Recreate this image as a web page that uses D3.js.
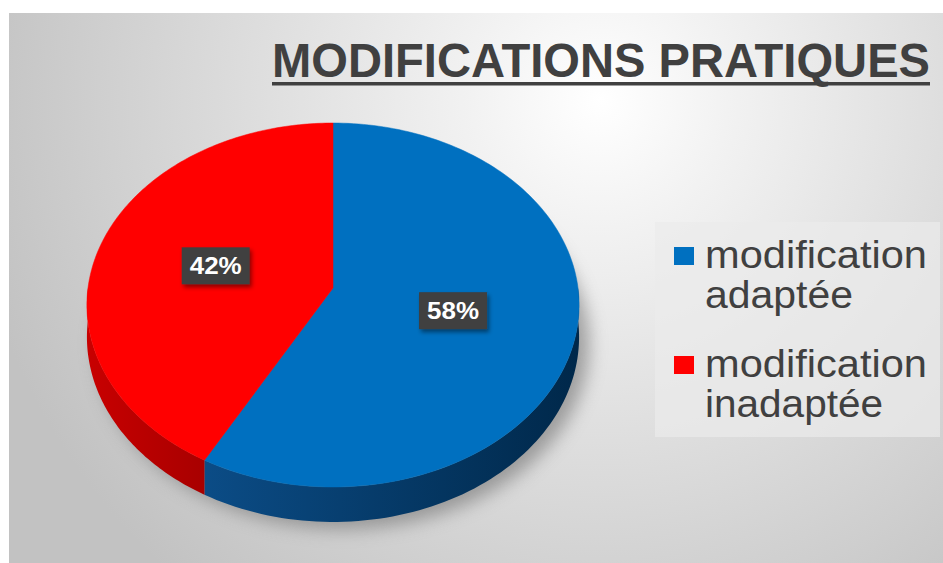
<!DOCTYPE html>
<html><head><meta charset="utf-8">
<script src="https://cdn.jsdelivr.net/npm/d3@7"></script>
<style>html,body{margin:0;padding:0;background:#fff;}svg{display:block;}</style>
</head><body>
<script>
const title = "MODIFICATIONS PRATIQUES";
const categories = ["modification adaptée", "modification inadaptée"];
const legendLines = [["modification", "adaptée"], ["modification", "inadaptée"]];
const values = [58, 42];
const labels = ["58%", "42%"];
const topColors = ["#0070c0", "#ff0000"];
const sideColors = [["#0b4c86", "#00284a"], ["#c80000", "#a80000"]];

const W = 943, H = 563;
const svg = d3.select("body").append("svg").attr("width", W).attr("height", H)
  .style("font-family", "'Liberation Sans', Arial, sans-serif");
const defs = svg.append("defs");

// background
const bg = defs.append("radialGradient").attr("id", "bg").attr("gradientUnits", "userSpaceOnUse")
  .attr("cx", 600).attr("cy", 100).attr("r", 640);
bg.append("stop").attr("offset", 0).attr("stop-color", "#ffffff");
bg.append("stop").attr("offset", 0.2).attr("stop-color", "#f2f2f2");
bg.append("stop").attr("offset", 1).attr("stop-color", "#c2c2c2");
svg.append("rect").attr("x", 9).attr("y", 13).attr("width", W - 9).attr("height", H - 13).attr("fill", "url(#bg)");

// pie geometry (perspective ellipse)
const cx = 333, cy = 288, rx = 245, ry = 180.4, p = 0.0934, depth = 31.7;
function proj(theta, r, h) {
  const u = Math.sin(theta) * r, v = -Math.cos(theta) * r;
  const s = 1 / (1 - p * v);
  return [cx + rx * u * s, cy + ry * v * s + depth * s * h];
}
const pie = d3.pie().sort(null).startAngle(0).endAngle(2 * Math.PI);
const arcs = pie(values);

// shadow
const blur = defs.append("filter").attr("id", "blur").attr("x", "-20%").attr("y", "-20%").attr("width", "140%").attr("height", "140%");
blur.append("feGaussianBlur").attr("stdDeviation", 9);
const shadowPts = d3.range(0, 361, 3).map(a => {
  const t = a * Math.PI / 180; const q = proj(t, 1, 1); return [q[0] + 10, q[1] + 7];
});
svg.append("path").attr("d", d3.line()(shadowPts) + "Z").attr("fill", "#6e6e6e").attr("opacity", 0.6).attr("filter", "url(#blur)");

// side walls (front half)
arcs.forEach((a, i) => {
  const s0 = Math.max(a.startAngle, Math.PI / 2), s1 = Math.min(a.endAngle, 3 * Math.PI / 2);
  if (s1 <= s0) return;
  const g = defs.append("linearGradient").attr("id", "side" + i).attr("gradientUnits", "userSpaceOnUse")
    .attr("x1", proj(s1, 1, 0)[0]).attr("x2", proj(s0, 1, 0)[0]).attr("y1", 0).attr("y2", 0);
  g.append("stop").attr("offset", 0).attr("stop-color", sideColors[i][0]);
  g.append("stop").attr("offset", 1).attr("stop-color", sideColors[i][1]);
  const n = 80, top = [], bot = [];
  for (let k = 0; k <= n; k++) { const t = s0 + (s1 - s0) * k / n; top.push(proj(t, 1, 0)); bot.push(proj(t, 1, 1)); }
  svg.append("path").attr("d", d3.line()(top.concat(bot.reverse())) + "Z").attr("fill", "url(#side" + i + ")");
});

// top faces
arcs.forEach((a, i) => {
  const n = 160, pts = [[cx, cy]];
  for (let k = 0; k <= n; k++) { const t = a.startAngle + (a.endAngle - a.startAngle) * k / n; pts.push(proj(t, 1, 0)); }
  svg.append("path").attr("d", d3.line()(pts) + "Z").attr("fill", topColors[i]).attr("stroke", topColors[i]).attr("stroke-width", 0.5);
});

// data labels
const lshadow = defs.append("filter").attr("id", "lsh").attr("x", "-30%").attr("y", "-30%").attr("width", "160%").attr("height", "160%");
lshadow.append("feDropShadow").attr("dx", 2).attr("dy", 3).attr("stdDeviation", 2).attr("flood-color", "#000").attr("flood-opacity", 0.45);
arcs.forEach((a, i) => {
  const mid = (a.startAngle + a.endAngle) / 2;
  const c = proj(mid, 0.5, 0);
  const bw = 68, bh = 37;
  svg.append("rect").attr("x", c[0] - bw / 2).attr("y", c[1] - bh / 2).attr("width", bw).attr("height", bh)
    .attr("fill", "#404040").attr("filter", "url(#lsh)");
  svg.append("text").attr("x", c[0]).attr("y", c[1] + 8.5).attr("text-anchor", "middle")
    .attr("font-size", 24).attr("font-weight", "bold").attr("fill", "#ffffff")
    .attr("textLength", 52).attr("lengthAdjust", "spacingAndGlyphs").text(labels[i]);
});

// title
svg.append("text").attr("x", 272).attr("y", 77).attr("font-size", 48).attr("font-weight", "bold")
  .attr("fill", "#404040").attr("textLength", 658).attr("lengthAdjust", "spacingAndGlyphs").text(title);
svg.append("rect").attr("x", 272).attr("y", 82).attr("width", 658).attr("height", 3.5).attr("fill", "#404040");

// legend
svg.append("rect").attr("x", 655).attr("y", 222).attr("width", 285).attr("height", 215)
  .attr("fill", "#ebebeb").attr("opacity", 0.7);
const lineW = {"modification": 222, "adaptée": 148, "inadaptée": 178};
legendLines.forEach((lines, i) => {
  const y0 = 268 + i * 109;
  svg.append("rect").attr("x", 674).attr("y", y0 - 21).attr("width", 20).attr("height", 18).attr("fill", topColors[i]);
  lines.forEach((t, j) => {
    svg.append("text").attr("x", 705).attr("y", y0 + j * 40).attr("font-size", 38).attr("fill", "#404040")
      .attr("textLength", lineW[t]).attr("lengthAdjust", "spacingAndGlyphs").text(t);
  });
});
</script>
</body></html>
